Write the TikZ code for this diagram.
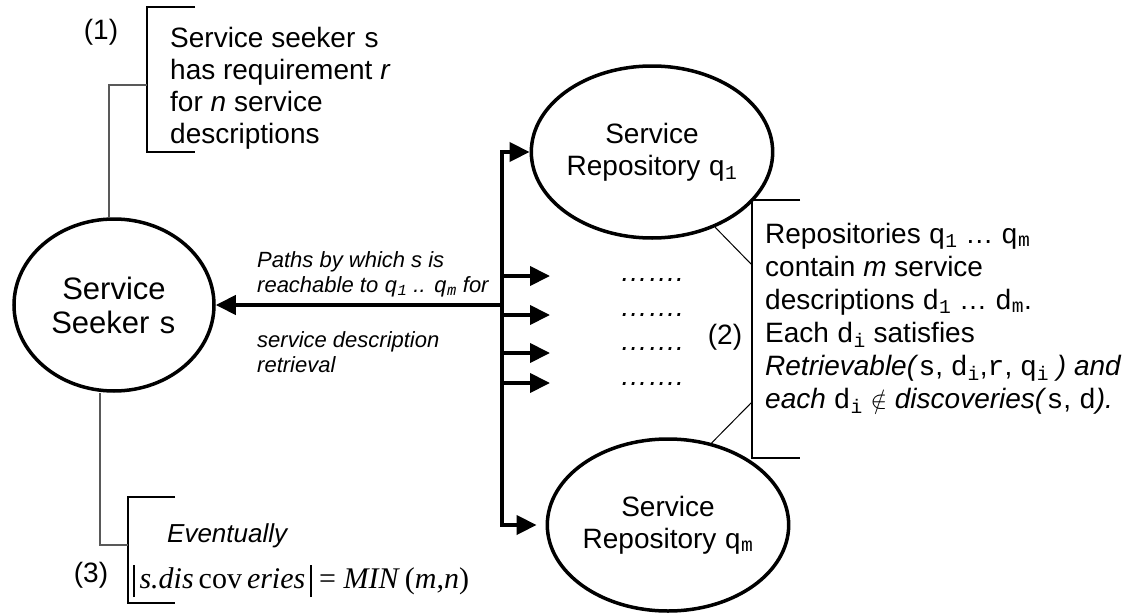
\documentclass[tikz,border=0pt]{standalone}
\usepackage{fontspec}
\setmainfont{Liberation Sans}
\newfontfamily\monof{Liberation Mono}
\newfontfamily\serf{Liberation Serif}
\usetikzlibrary{arrows.meta,shapes.geometric}
\newcommand{\ms}[1]{{\monof #1}}
\newcommand{\msub}[2]{{\monof #1\textsubscript{#2}}}
\newcommand{\absbar}{\rule[-9pt]{1.3pt}{32pt}}
\tikzset{
  ell/.style={ellipse, draw, line width=3.5pt, inner sep=0pt, align=center, font=\fontsize{28}{32}\selectfont},
  bold/.style={line width=4pt, line join=miter},
  tip/.style={-{Triangle[length=20pt,width=19pt]}},
  brk/.style={line width=1.5pt},
  conn/.style={line width=1.5pt, draw=black!65},
  lead/.style={line width=1pt},
  txt/.style={inner sep=0pt, align=left, anchor=base west, font=\fontsize{28}{32}\selectfont},
  lbl/.style={inner sep=0pt, align=left, anchor=base west, font=\fontsize{22}{25}\selectfont\itshape},
  num/.style={inner sep=0pt, font=\fontsize{28}{32}\selectfont},
}
\begin{document}
\begin{tikzpicture}[x=1pt,y=-1pt]
\useasboundingbox (0,0) rectangle (1128,613);
% ellipses
\node[ell, minimum width=200pt, minimum height=172pt, font=\fontsize{31}{34}\selectfont] (seek) at (114,305) {Service\\Seeker \ms{s}};
\node[ell, minimum width=200pt, minimum height=172pt] (q1) at (652,152) {Service\\Repository \msub{q}{1}};
\node[ell, minimum width=214pt, minimum height=172pt] (qm) at (668,525) {Service\\Repository \msub{q}{m}};
% trunk
\coordinate (t1) at (502,152);
\coordinate (tm) at (502,525);
\coordinate (ts) at (502,305);
\draw[bold, {Triangle[length=20pt,width=19pt]}-{Triangle[length=20pt,width=19pt]}, shorten >=9pt] (q1.west) -- (t1) -- (tm) -- (qm.west);
\draw[bold, tip] (ts) -- (seek.east);
\foreach \yy [count=\i] in {276,315,353,383} {
  \coordinate (ms\i) at (502,\yy);
  \coordinate (me\i) at (550,\yy);
  \draw[bold, tip] (ms\i) -- (me\i);
}
\foreach \yy [count=\i] in {281,316,350,385} {
  \node[inner sep=0pt, anchor=base, font=\fontsize{28}{32}\selectfont\itshape] (dots\i) at (652,\yy) {…….};
}
% path labels
\node[lbl] (pl1) at (257,292) {Paths by which s is\\reachable to \msub{q}{1} .. \msub{q}{m} for};
\node[lbl] (pl2) at (257,372) {service description\\retrieval};
% bracket (1)
\coordinate (b1a) at (195,7); \coordinate (b1b) at (147,7);
\coordinate (b1c) at (147,152); \coordinate (b1d) at (195,152);
\coordinate (b1m) at (147,85);
\draw[brk] (b1a) -- (b1b) -- (b1c) -- (b1d);
\draw[conn] ([xshift=-5pt]seek.north) |- (b1m);
\node[num] (n1) at (101,32) {(1)};
\node[txt] (t1txt) at (170,143) {Service seeker \ms{s}\\has requirement \textit{r}\\for \textit{n} service\\descriptions};
% bracket (2)
\coordinate (b2a) at (800,200); \coordinate (b2b) at (752,200);
\coordinate (b2c) at (752,458); \coordinate (b2d) at (800,458);
\coordinate (b2u) at (752,265); \coordinate (b2l) at (752,402);
\draw[brk] (b2a) -- (b2b) -- (b2c) -- (b2d);
\draw[lead] (q1.-50) -- (b2u);
\draw[lead] (qm.62) -- (b2l);
\node[num] (n2) at (725,337) {(2)};
\node[txt, font=\fontsize{28}{33}\selectfont] (t2txt) at (765,408) {Repositories \msub{q}{1} … \msub{q}{m}\\contain \textit{m} service\\descriptions \msub{d}{1} … \msub{d}{m}.\\Each \msub{d}{i} satisfies\\\textit{Retrievable(}\ms{s}, \msub{d}{i},\ms{r}, \msub{q}{i} \textit{) and}\\\textit{each} \msub{d}{i} $\notin$ \textit{discoveries(}\ms{s}, \ms{d}\textit{).}};
% bracket (3)
\coordinate (b3a) at (175,497); \coordinate (b3b) at (128,497);
\coordinate (b3c) at (128,603); \coordinate (b3d) at (175,603);
\coordinate (b3m) at (128,545);
\draw[brk] (b3a) -- (b3b) -- (b3c) -- (b3d);
\draw[conn] ([xshift=-14pt]seek.south) |- (b3m);
\node[num] (n3) at (91,575) {(3)};
\node[inner sep=0pt, anchor=base west, font=\fontsize{26}{30}\selectfont\itshape] (ev) at (167,542) {Eventually};
\node[inner sep=0pt, anchor=base west, font=\serf\fontsize{30}{34}\selectfont] (fm) at (133,588) {\absbar\,\textit{s.dis}\,cov\,\textit{eries}\,\absbar\ = \textit{MIN}\,(\textit{m},\textit{n})};
\end{tikzpicture}
\end{document}
